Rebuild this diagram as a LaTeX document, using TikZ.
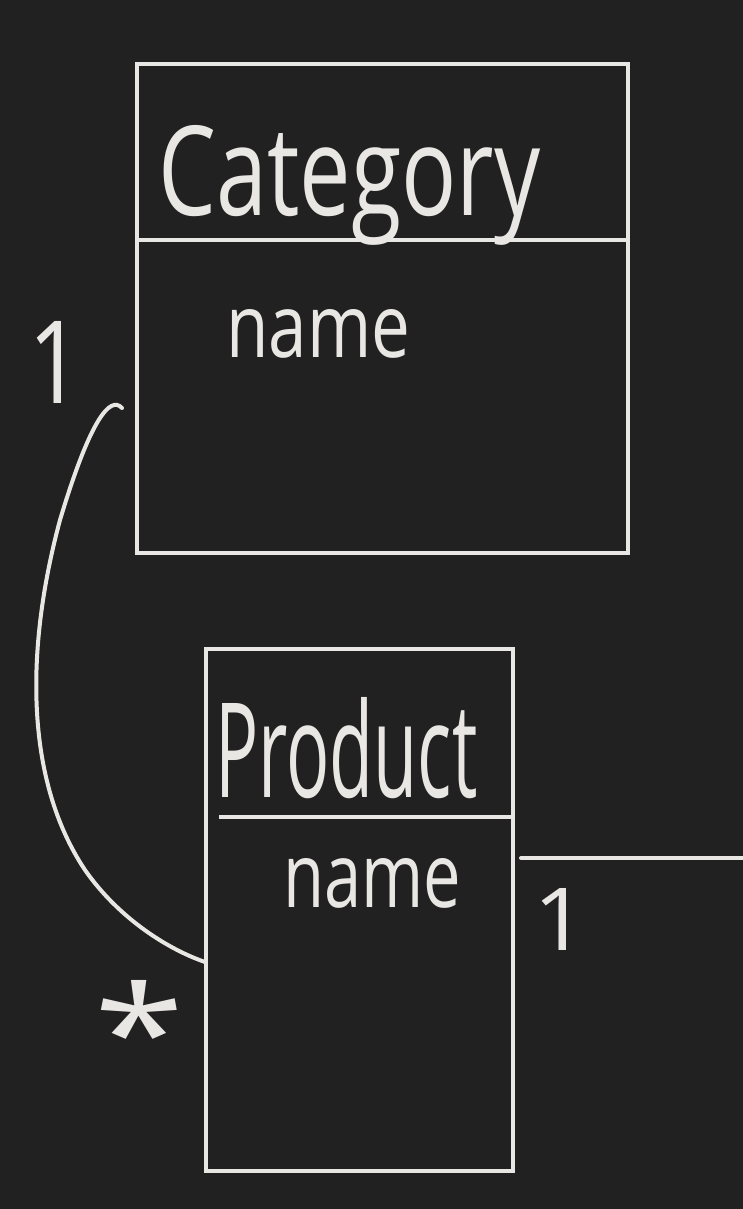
\documentclass[tikz,border=0pt]{standalone}
\usepackage{fontspec}
\setmainfont{Open Sans}
\definecolor{bg}{HTML}{212121}
\definecolor{ink}{HTML}{E9E7E4}
\begin{document}
\begin{tikzpicture}[x=1pt,y=-1pt,
  box/.style={draw=ink,line width=3.4pt},
  conn/.style={draw=ink,line width=4pt,line cap=round},
  lbl/.style={text=ink,inner sep=0pt,anchor=base west,font=\fontseries{l}\selectfont}]
\fill[bg] (0,0) rectangle (743,1209);
\useasboundingbox (0,0) rectangle (743,1209);
% Category box
\draw[box] (137,64) rectangle (628,553);
\coordinate (catdivL) at (137,240);
\coordinate (catdivR) at (628,240);
\draw[box] (catdivL) -- (catdivR);
\node[lbl] (cattitle) at (158,215) {\resizebox{382pt}{90pt}{Category}};
\node[lbl] (catname) at (226,357) {\resizebox{184pt}{48pt}{name}};
% Product box
\draw[box] (206,649) rectangle (513,1171);
\coordinate (proddivL) at (219,817);
\coordinate (proddivR) at (513,817);
\draw[box] (proddivL) -- (proddivR);
\node[lbl] (prodtitle) at (215,797) {\resizebox{262pt}{100pt}{Product}};
\node[lbl] (prodname) at (283,907) {\resizebox{178pt}{49pt}{name}};
% connectors
\coordinate (cstart) at (122,408);
\coordinate (pend) at (205,962);
\draw[conn] (cstart) .. controls (110,395) and (90,420) .. (60,520)
  .. controls (25,650) and (25,780) .. (85,870)
  .. controls (120,920) and (170,950) .. (pend);
\coordinate (pr) at (521,858);
\coordinate (off) at (743,858);
\draw[conn] (pr) -- (off);
% multiplicity labels
\node[lbl] (m1) at (28,403) {\resizebox{54pt}{82pt}{1}};
\node[lbl, anchor=center] (m2) at (140,1030) {\resizebox{90pt}{100pt}{*}};
\node[lbl] (m3) at (533,950) {\resizebox{54pt}{62pt}{1}};
\end{tikzpicture}
\end{document}
